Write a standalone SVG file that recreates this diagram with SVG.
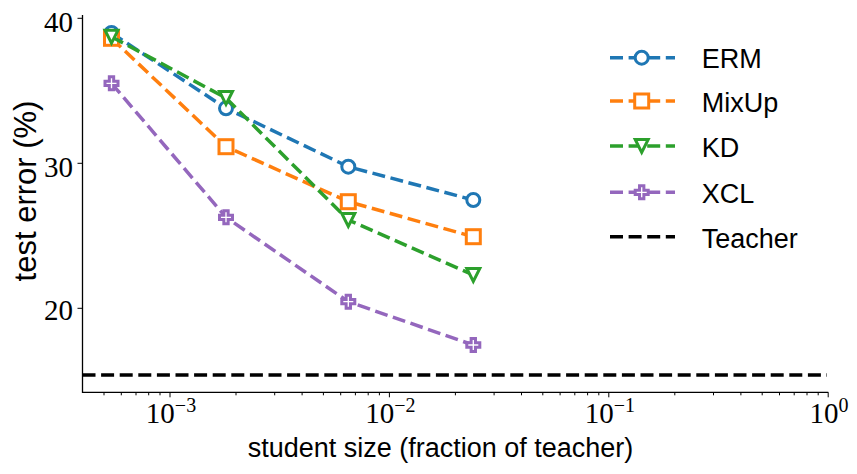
<svg xmlns="http://www.w3.org/2000/svg" xmlns:xlink="http://www.w3.org/1999/xlink" width="857" height="474" viewBox="0 0 857 474">
<style>
.ax{stroke:#000;stroke-width:1.3;fill:none}
.tk{stroke:#000;stroke-width:1;fill:none}
.ln{fill:none;stroke-width:3.5;stroke-dasharray:13 5.6}
.tl{font-family:"Liberation Serif",serif;font-size:29px;fill:#000}
.lb{font-family:"Liberation Sans",sans-serif;font-size:27px;fill:#000}
.c0{stroke:#1f77b4}.c1{stroke:#ff7f0e}.c2{stroke:#2ca02c}.c3{stroke:#9467bd}
.mk{fill:#fff;stroke-width:3;stroke-linejoin:miter}
</style>
<defs>
<circle id="mo" r="6.5"/>
<rect id="ms" x="-7" y="-7" width="14" height="14"/>
<path id="mv" d="M-6.5,-6.5 L6.5,-6.5 L0,6.5 Z"/>
<path id="mp" d="M-2.17,-6.5 L2.17,-6.5 L2.17,-2.17 L6.5,-2.17 L6.5,2.17 L2.17,2.17 L2.17,6.5 L-2.17,6.5 L-2.17,2.17 L-6.5,2.17 L-6.5,-2.17 L-2.17,-2.17 Z"/>
</defs>
<rect width="857" height="474" fill="#fff"/>

<g id="axes">
<path class="ax" d="M82.5,15 V392.3 H828.3"/>
<path class="tk" d="M82.5,18.3 h-5 M82.5,163.3 h-5 M82.5,308.3 h-5"/>
<path class="tk" d="M170,392.3 v5 M389.4,392.3 v5 M608.8,392.3 v5 M828.2,392.3 v5"/>
<path class="tk" d="M104,392.3 v3 M121.3,392.3 v3 M136,392.3 v3 M148.7,392.3 v3 M160,392.3 v3 M236,392.3 v3 M274.7,392.3 v3 M302.1,392.3 v3 M323.4,392.3 v3 M340.7,392.3 v3 M355.4,392.3 v3 M368.2,392.3 v3 M379.4,392.3 v3 M455.4,392.3 v3 M494.1,392.3 v3 M521.5,392.3 v3 M542.8,392.3 v3 M560.1,392.3 v3 M574.8,392.3 v3 M587.6,392.3 v3 M598.8,392.3 v3 M674.8,392.3 v3 M713.5,392.3 v3 M740.9,392.3 v3 M762.2,392.3 v3 M779.5,392.3 v3 M794.2,392.3 v3 M807,392.3 v3 M818.2,392.3 v3"/>
<text class="tl" x="73" y="31.7" text-anchor="end">40</text>
<text class="tl" x="73" y="176.7" text-anchor="end">30</text>
<text class="tl" x="73" y="320" text-anchor="end">20</text>
<text class="tl" x="171" y="422.7" text-anchor="middle">10<tspan dy="-11" style="font-size:20px">−3</tspan></text>
<text class="tl" x="390.4" y="422.7" text-anchor="middle">10<tspan dy="-11" style="font-size:20px">−2</tspan></text>
<text class="tl" x="609.8" y="422.7" text-anchor="middle">10<tspan dy="-11" style="font-size:20px">−1</tspan></text>
<text class="tl" x="829" y="422.7" text-anchor="middle">10<tspan dy="-11" style="font-size:20px">0</tspan></text>
<text class="lb" x="440.5" y="456.7" text-anchor="middle">student size (fraction of teacher)</text>
<text class="lb" transform="translate(36,191) rotate(-90)" text-anchor="middle" style="font-size:31px">test error (%)</text>
</g>

<g id="connectors">
<polyline class="ln c0" points="111.5,33 226,108.3 348.3,166.7 473.3,200"/>
<g id="erm" class="mk c0"><use xlink:href="#mo" x="111.5" y="33"/><use xlink:href="#mo" x="226" y="108.3"/><use xlink:href="#mo" x="348.3" y="166.7"/><use xlink:href="#mo" x="473.3" y="200"/></g>
<polyline class="ln c1" points="111.5,38.3 226,146.7 348.3,201.7 473.3,236.7"/>
<g id="mixup" class="mk c1"><use xlink:href="#ms" x="111.5" y="38.3"/><use xlink:href="#ms" x="226" y="146.7"/><use xlink:href="#ms" x="348.3" y="201.7"/><use xlink:href="#ms" x="473.3" y="236.7"/></g>
<polyline class="ln c2" points="111.5,36.7 226,98 348.3,220 473.3,275"/>
<g id="kd" class="mk c2"><use xlink:href="#mv" x="111.5" y="36.7"/><use xlink:href="#mv" x="226" y="98"/><use xlink:href="#mv" x="348.3" y="220"/><use xlink:href="#mv" x="473.3" y="275"/></g>
<polyline class="ln c3" points="111.5,83.3 226,217.3 348.3,301.7 473.3,345"/>
<g id="xcl" class="mk c3"><use xlink:href="#mp" x="111.5" y="83.3"/><use xlink:href="#mp" x="226" y="217.3"/><use xlink:href="#mp" x="348.3" y="301.7"/><use xlink:href="#mp" x="473.3" y="345"/></g>
<line id="teacher" class="ln" stroke="#000" x1="82.5" y1="375" x2="827" y2="375"/>
</g>

<g id="legend">
<g id="leg-erm"><line class="ln c0" x1="610" y1="57.7" x2="675" y2="57.7"/><use class="mk c0" xlink:href="#mo" x="641.7" y="57.7"/><text class="lb" x="701.7" y="68.3">ERM</text></g>
<g id="leg-mixup"><line class="ln c1" x1="610" y1="101" x2="675" y2="101"/><use class="mk c1" xlink:href="#ms" x="641.7" y="101"/><text class="lb" x="701.7" y="111.6">MixUp</text></g>
<g id="leg-kd"><line class="ln c2" x1="610" y1="146" x2="675" y2="146"/><use class="mk c2" xlink:href="#mv" x="641.7" y="146"/><text class="lb" x="701.7" y="157">KD</text></g>
<g id="leg-xcl"><line class="ln c3" x1="610" y1="192.3" x2="675" y2="192.3"/><use class="mk c3" xlink:href="#mp" x="641.7" y="192.3"/><text class="lb" x="701.7" y="203">XCL</text></g>
<g id="leg-teacher"><line class="ln" stroke="#000" x1="610" y1="236.7" x2="675" y2="236.7"/><text class="lb" x="701.7" y="247.7">Teacher</text></g>
</g>
</svg>
